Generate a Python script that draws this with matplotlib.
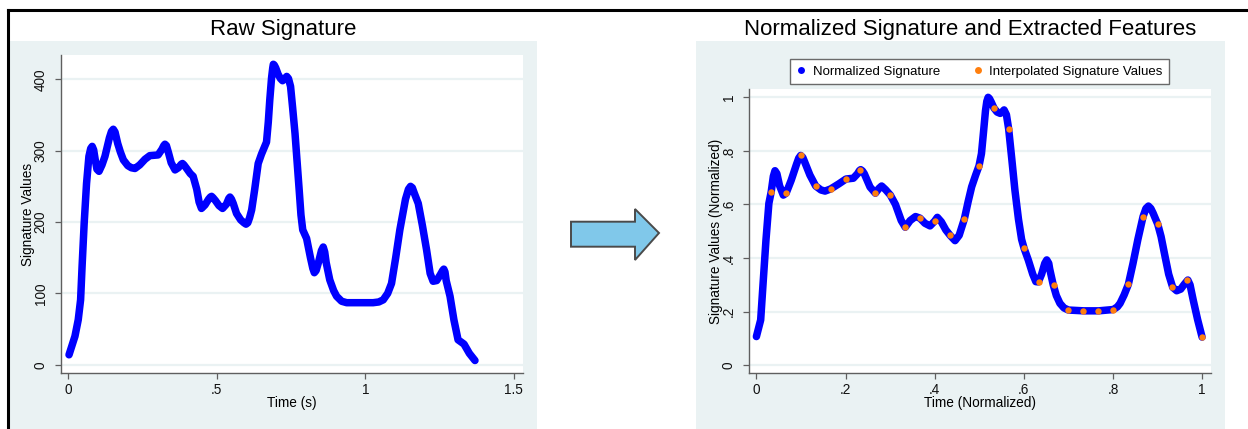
import matplotlib
matplotlib.use("Agg")
import matplotlib.pyplot as plt
from matplotlib.patches import Rectangle, Polygon
from matplotlib.lines import Line2D

# ---------------- data ----------------
raw_time = [0.002, 0.022, 0.033, 0.041, 0.046, 0.053, 0.061, 0.069, 0.075, 0.080, 0.085,
            0.090, 0.096, 0.103, 0.113, 0.123, 0.138, 0.145, 0.151, 0.157, 0.166, 0.175,
            0.185, 0.200, 0.212, 0.224, 0.240, 0.258, 0.274, 0.302, 0.315, 0.321, 0.325,
            0.330, 0.337, 0.346, 0.359, 0.370, 0.380, 0.384, 0.389, 0.398, 0.410, 0.420,
            0.432, 0.440, 0.448, 0.460, 0.472, 0.478, 0.482, 0.487, 0.495, 0.507, 0.519,
            0.532, 0.540, 0.544, 0.549, 0.555, 0.566, 0.580, 0.591, 0.598, 0.604, 0.610,
            0.617, 0.627, 0.639, 0.650, 0.667, 0.673, 0.678, 0.684, 0.688, 0.690, 0.693,
            0.698, 0.706, 0.714, 0.721, 0.729, 0.735, 0.741, 0.748, 0.755, 0.763, 0.770,
            0.777, 0.783, 0.789, 0.802, 0.815, 0.823, 0.828, 0.834, 0.843, 0.852, 0.858,
            0.863, 0.868, 0.880, 0.893, 0.903, 0.920, 0.937, 1.026, 1.045, 1.060, 1.075,
            1.088, 1.102, 1.116, 1.135, 1.145, 1.152, 1.158, 1.165, 1.178, 1.192, 1.206,
            1.218, 1.228, 1.240, 1.252, 1.260, 1.264, 1.268, 1.272, 1.285, 1.298, 1.312,
            1.322, 1.332, 1.350, 1.369]
raw_values = [14, 40, 63, 91, 138, 198, 254, 292, 303, 306, 301,
              288, 274, 271, 280, 292, 318, 327, 330, 326, 310, 298,
              287, 279, 276, 275, 280, 288, 293, 294, 302, 307, 309,
              307, 297, 283, 273, 276, 281, 282, 280, 275, 268, 264,
              246, 228, 219, 224, 232, 235, 236, 234, 230, 223, 219,
              225, 233, 235, 232, 226, 212, 203, 199, 197, 199, 206,
              217, 245, 282, 295, 312, 340, 371, 402, 416, 421, 420,
              416, 407, 401, 398, 401, 404, 401, 390, 360, 324, 285,
              245, 210, 189, 177, 150, 135, 129, 132, 145, 160, 165,
              158, 143, 119, 104, 96, 89, 87, 87, 88, 91, 100,
              114, 150, 189, 232, 246, 250, 248, 240, 226, 195, 161,
              128, 117, 118, 126, 132, 134, 130, 118, 96, 63, 35,
              32, 29, 16, 6]

norm_time = [0.000, 0.0096, 0.0155, 0.0215, 0.028, 0.0333, 0.038, 0.0417, 0.046, 0.052,
             0.0604, 0.0667, 0.078, 0.090, 0.095, 0.0994, 0.104, 0.108, 0.120, 0.133,
             0.145, 0.154, 0.1667, 0.185, 0.201, 0.2175, 0.227, 0.231, 0.234, 0.238,
             0.242, 0.255, 0.267, 0.275, 0.281, 0.290, 0.3006, 0.312, 0.325, 0.334,
             0.345, 0.357, 0.367, 0.378, 0.3896, 0.400, 0.406, 0.415, 0.425, 0.4345,
             0.4457, 0.455, 0.4666, 0.475, 0.483, 0.492, 0.4995, 0.505, 0.509, 0.514,
             0.517, 0.520, 0.523, 0.527, 0.533, 0.540, 0.547, 0.552, 0.5557, 0.561,
             0.566, 0.573, 0.580, 0.588, 0.595, 0.6005, 0.610, 0.620, 0.627, 0.6327,
             0.640, 0.647, 0.6515, 0.656, 0.658, 0.666, 0.673, 0.681, 0.690, 0.700,
             0.7345, 0.768, 0.801, 0.810, 0.816, 0.825, 0.8346, 0.845, 0.856, 0.8676,
             0.874, 0.8796, 0.885, 0.890, 0.9006, 0.908, 0.917, 0.925, 0.934, 0.943,
             0.952, 0.960, 0.968, 0.973, 0.980, 0.990, 1.000]
norm_values = [0.107, 0.169, 0.318, 0.468, 0.604, 0.648, 0.705, 0.726, 0.715, 0.670,
               0.635, 0.642, 0.690, 0.750, 0.773, 0.783, 0.776, 0.760, 0.710, 0.669,
               0.654, 0.650, 0.658, 0.677, 0.695, 0.698, 0.715, 0.726, 0.730, 0.725,
               0.715, 0.665, 0.642, 0.660, 0.669, 0.655, 0.635, 0.600, 0.540, 0.515,
               0.540, 0.555, 0.549, 0.530, 0.520, 0.538, 0.552, 0.535, 0.505, 0.485,
               0.465, 0.485, 0.546, 0.610, 0.666, 0.710, 0.744, 0.790, 0.860, 0.950,
               0.985, 1.000, 0.995, 0.982, 0.960, 0.945, 0.940, 0.946, 0.953, 0.935,
               0.882, 0.770, 0.654, 0.545, 0.470, 0.437, 0.393, 0.340, 0.312, 0.311,
               0.340, 0.380, 0.393, 0.380, 0.360, 0.300, 0.260, 0.231, 0.214, 0.206,
               0.203, 0.203, 0.208, 0.218, 0.231, 0.262, 0.302, 0.380, 0.470, 0.555,
               0.585, 0.594, 0.585, 0.568, 0.526, 0.480, 0.405, 0.340, 0.291, 0.278,
               0.284, 0.302, 0.318, 0.300, 0.244, 0.170, 0.105]

feat_time = [0.0333, 0.0667, 0.1, 0.1333, 0.1667, 0.2, 0.2333, 0.2667, 0.3, 0.3333,
             0.3667, 0.4, 0.4333, 0.4667, 0.5, 0.5333, 0.5667, 0.6, 0.6333, 0.6667,
             0.7, 0.7333, 0.7667, 0.8, 0.8333, 0.8667, 0.9, 0.9333, 0.9667, 1.0]
feat_values = [0.648, 0.642, 0.783, 0.669, 0.658, 0.695, 0.730, 0.642, 0.635, 0.515,
               0.549, 0.538, 0.486, 0.546, 0.744, 0.960, 0.882, 0.437, 0.311, 0.300,
               0.206, 0.203, 0.203, 0.208, 0.302, 0.555, 0.526, 0.291, 0.318, 0.105]

raw_xticks = [0, 0.5, 1, 1.5]
raw_xticklabels = ["0", ".5", "1", "1.5"]
raw_yticks = [0, 100, 200, 300, 400]
raw_yticklabels = ["0", "100", "200", "300", "400"]
norm_ticks = [0, 0.2, 0.4, 0.6, 0.8, 1.0]
norm_ticklabels = ["0", ".2", ".4", ".6", ".8", "1"]

# ---------------- style ----------------
plt.rcParams["font.family"] = ["Liberation Sans", "DejaVu Sans"]
W, H = 1248, 429
BG = "#eaf2f3"
BLUE = "#0000ff"
ORANGE = "#ff7f0e"
SPINE = "#5f5f5f"
TITLE_SIZE = 16


def fx(px):
    return px / W


def fy(py):
    return 1 - py / H


fig = plt.figure(figsize=(W / 100, H / 100), dpi=100)
fig.patch.set_facecolor("white")

# panel backgrounds
for x0, x1 in [(9, 537), (696, 1225)]:
    fig.patches.append(Rectangle((fx(x0), 0), fx(x1) - fx(x0), fy(41),
                                 transform=fig.transFigure, facecolor=BG,
                                 edgecolor="none", zorder=-5))

# outer border (top and left)
fig.add_artist(Line2D([fx(8), 1.0], [fy(10), fy(10)], color="black", lw=2.2,
                      transform=fig.transFigure, zorder=5))
fig.add_artist(Line2D([fx(8), fx(8)], [fy(10), 0], color="black", lw=2.2,
                      transform=fig.transFigure, zorder=5))


def style_axes(ax):
    ax.set_zorder(1)
    ax.set_facecolor("white")
    for s in ["top", "right"]:
        ax.spines[s].set_visible(False)
    for s in ["left", "bottom"]:
        ax.spines[s].set_color(SPINE)
        ax.spines[s].set_linewidth(1.0)
    ax.tick_params(axis="both", length=4, width=0.9, color=SPINE,
                   labelsize=9.8, labelcolor="#111111")
    ax.tick_params(axis="y", pad=5.5)
    ax.tick_params(axis="x", pad=3)
    ax.grid(axis="y", color=BG, lw=1.6, zorder=0)
    ax.set_axisbelow(True)


# ---------------- left panel ----------------
ax1 = fig.add_axes([fx(61), fy(373), fx(522.5) - fx(61), fy(55) - fy(373)])
style_axes(ax1)
ax1.plot(raw_time, raw_values, color=BLUE, lw=5.4, solid_joinstyle="round",
         solid_capstyle="round", zorder=3)
ax1.set_xlim(-0.025, 1.529)
ax1.set_ylim(-11.5, 434)
ax1.set_xticks(raw_xticks)
ax1.set_xticklabels(raw_xticklabels)
ax1.set_yticks(raw_yticks)
ax1.set_yticklabels(raw_yticklabels, rotation=90, va="center")
ax1.set_xlabel("Time (s)", fontsize=9.8)
ax1.set_ylabel("Signature Values", fontsize=9.8)
ax1.xaxis.set_label_coords(0.5, (373 - 396) / 318)
ax1.yaxis.set_label_coords((35 - 61) / 461.5, 0.5)
fig.text(fx(283), fy(35), "Raw Signature", ha="center", va="baseline",
         fontsize=TITLE_SIZE)

# ---------------- arrow ----------------
arrow_px = [(571, 221.7), (635, 221.7), (635, 209), (659, 233), (635, 260),
            (635, 246.7), (571, 246.7)]
fig.patches.append(Polygon([(fx(x), fy(y)) for x, y in arrow_px], closed=True,
                           transform=fig.transFigure, facecolor="#80c8ea",
                           edgecolor="#4a4a4a", lw=1.4, zorder=2))

# ---------------- right panel ----------------
ax2 = fig.add_axes([fx(749), fy(373), fx(1211) - fx(749), fy(89) - fy(373)])
style_axes(ax2)
ax2.plot(norm_time, norm_values, color=BLUE, lw=5.4, solid_joinstyle="round",
         solid_capstyle="round", zorder=3)
ax2.plot(feat_time, feat_values, "o", color=ORANGE, ms=4.6, mew=0, zorder=4)
ax2.set_xlim(-0.0166, 1.02)
ax2.set_ylim(-0.029, 1.031)
ax2.set_xticks(norm_ticks)
ax2.set_xticklabels(norm_ticklabels)
ax2.set_yticks(norm_ticks)
ax2.set_yticklabels(norm_ticklabels, rotation=90, va="center")
ax2.set_xlabel("Time (Normalized)", fontsize=9.8)
ax2.set_ylabel("Signature Values (Normalized)", fontsize=9.8)
ax2.xaxis.set_label_coords(0.5, (373 - 396) / 284)
ax2.yaxis.set_label_coords((723 - 749) / 462, 0.5)
fig.text(fx(970), fy(35), "Normalized Signature and Extracted Features",
         ha="center", va="baseline", fontsize=TITLE_SIZE)

handles = [Line2D([], [], ls="none", marker="o", color=BLUE, ms=5, mew=0),
           Line2D([], [], ls="none", marker="o", color=ORANGE, ms=5, mew=0)]
leg = ax2.legend(handles, ["Normalized Signature", "Interpolated Signature Values"],
                 loc="center", bbox_to_anchor=(fx(979.5), fy(71.5)),
                 bbox_transform=fig.transFigure, ncol=2, frameon=True,
                 fancybox=False, framealpha=1, edgecolor="#6a6a6a",
                 fontsize=9.5, handlelength=0.8, handletextpad=0.5,
                 columnspacing=2.4, borderpad=0.45, borderaxespad=0)
leg.get_frame().set_linewidth(1.0)

fig.savefig("out.png", dpi=100, facecolor="white")
